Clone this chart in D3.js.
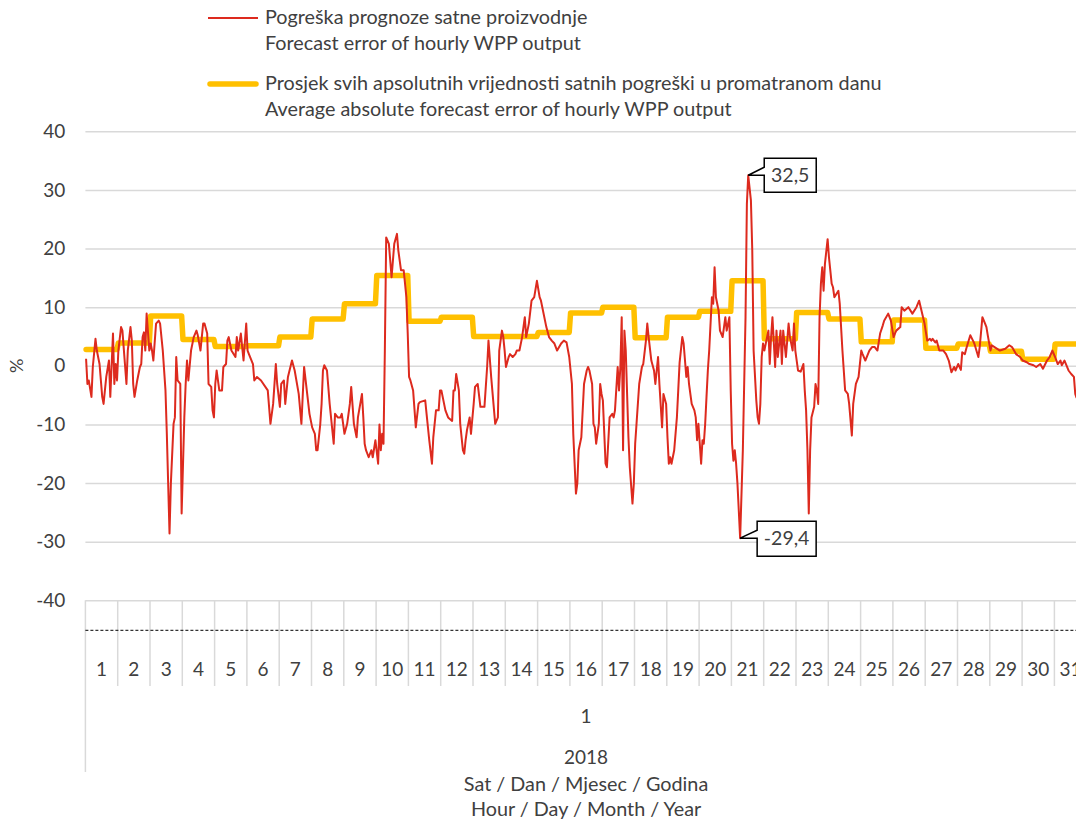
<!DOCTYPE html>
<html>
<head>
<meta charset="utf-8">
<script src="https://cdn.jsdelivr.net/npm/d3@7"></script>
<style>
  body { margin: 0; background: #fff; }
  svg text { font-family: Lato, "Open Sans", sans-serif; fill: #404040; }
</style>
</head>
<body>
<svg id="chart" width="1076" height="821"></svg>
<script>
////////////////// data ////////////////////
// day labels on the category axis (month 1, year 2018)
const dayLabels = d3.range(1, 32).map(String);
const monthLabel = "1";
const yearLabel = "2018";
const yTicks = [-40, -30, -20, -10, 0, 10, 20, 30, 40];

// daily average of absolute hourly errors (%), one per day
const dailyAvgAbs = [2.8, 3.9, 8.5, 4.5, 3.3, 3.4, 4.9, 8.0, 10.6, 15.4, 7.6, 8.3, 5.0, 5.0, 5.7,
    9.0, 10.0, 4.8, 8.3, 9.3, 14.5, 4.6, 9.1, 8.0, 4.1, 7.8, 3.0, 3.7, 2.5, 1.1, 3.7];

// hourly forecast error (%): [hour index from 1.1. 00h, value]
const hourlyError = [
    [0,1.2],[1,-3.1],[2,-2.5],[4,-5.3],[5,-0.2],[7,4.6],[8,2.6],[10,0.3],[12,-5.3],[13,-6.5],[15,-1.9],[17,0.9],
    [18,-5.3],[20,5.5],[21,-3.1],[22,0.3],[23,-2.5],[24,2.6],[26,6.6],[27,6.0],[30,-3.1],[31,2.6],[33,6.6],[34,4.3],
    [35,-3.1],[36,-5.3],[38,-2.5],[40,-0.2],[41,0.3],[42,4.9],[43,5.7],[44,2.6],[45,8.9],[47,2.6],[48,3.8],[49,2.6],
    [50,0.9],[52,7.2],[54,7.7],[55,7.2],[57,2.6],[59,-4.2],[60,-11.6],[62,-28.6],[63,-20.1],[65,-9.9],[66,-8.8],
    [67,1.5],[68,-2.5],[70,-3.1],[71,-25.2],[73,-8.8],[74,-3.1],[75,0.9],[76,-2.5],[78,2.6],[80,4.9],[82,6.0],
    [83,5.2],[85,2.6],[87,7.2],[88,7.2],[90,5.5],[91,-3.1],[93,-3.6],[94,-7.6],[95,-8.8],[96,-3.1],[97,-0.8],
    [99,-4.2],[101,-4.2],[102,-0.2],[104,0.3],[105,4.3],[106,4.9],[108,2.6],[111,1.5],[112,4.9],[113,2.6],[115,5.5],
    [117,0.9],[119,7.2],[120,2.6],[121,2.0],[124,0.3],[125,-2.5],[127,-1.9],[130,-2.5],[135,-4.2],[137,-9.9],
    [139,-6.5],[141,0.3],[142,-3.1],[144,-7.0],[145,-3.1],[147,-2.5],[148,-6.5],[150,-1.9],[153,0.9],[155,-0.8],
    [158,-4.8],[160,-9.9],[162,-0.2],[164,-4.2],[166,-8.2],[168,-10.5],[170,-11.6],[171,-14.4],[172,-14.4],
    [174,-10],[175,-6.5],[176,-0.8],[177,0.1],[179,-0.8],[181,-6.5],[184,-13.3],[185,-8.2],[187,-8.8],[189,-8.8],
    [190,-8.2],[192,-11.6],[194,-9.9],[196,-6.5],[197,-3.6],[199,-9.9],[201,-12.2],[202,-8.8],[205,-4.8],
    [206,-8.8],[207,-13.3],[208,-14.4],[210,-15.6],[212,-14.4],[213,-15.6],[215,-12.7],[217,-16.7],[218,-10],
    [219,-14.4],[220,-11.6],[221,-13.3],[222,2.6],[223,21.9],[225,20.8],[227,15.1],[229,20.8],[231,22.5],
    [232,19.7],[234,16.3],[236,16.3],[238,11.7],[239,5.5],[240,-1.9],[241,-2.5],[243,-4.2],[245,-10.5],[247,-6.5],
    [248,-6.2],[252,-5.9],[253,-8.2],[255,-12.7],[257,-16.7],[258,-12.2],[260,-7.6],[262,-7.6],[263,-4.2],
    [264,-4.2],[267,-7.6],[269,-8.8],[272,-9.4],[273,-4.2],[274,-4.2],[275,-1.4],[277,-4.2],[278,-9.9],[280,-14.4],
    [281,-15],[282,-12.7],[283,-11],[285,-8.8],[286,-11.6],[288,-6.5],[289,-3.6],[291,-3.1],[293,-7.0],[296,-7.0],
    [298,-0.2],[299,4.3],[301,-1.9],[304,-9.9],[306,-8.8],[307,2.6],[309,6.0],[310,4.9],[311,2.6],[312,-0.2],
    [314,1.5],[315,2.0],[317,1.5],[319,2.0],[320,2.6],[322,2.6],[324,4.9],[326,8.3],[327,4.9],[329,7.2],[331,11.1],
    [333,11.7],[335,14.5],[337,11.7],[338,11.1],[342,6.6],[344,4.9],[346,4.3],[348,3.8],[350,2.6],[353,3.8],
    [355,4.3],[357,4.0],[359,1.5],[361,-3.1],[362,-11.6],[364,-21.8],[365,-20.1],[366,-14.4],[368,-12.2],
    [370,-3.1],[372,-0.8],[373,-0.2],[374,-0.8],[376,-3.1],[377,-9.9],[378,-10.5],[379,-13.3],[381,-9.9],
    [382,-3.1],[383,-4.8],[384,-5.9],[386,-16.7],[387,-17.3],[389,-8.8],[391,-8.2],[392,-8.8],[393,-7.6],
    [395,-0.2],[396,-4.2],[397,-0.2],[398,8.3],[399,-14.4],[400,6.0],[401,2.6],[403,-12.2],[404,-17.3],
    [406,-23.5],[407,-20.1],[408,-13.3],[409,-9.9],[411,-3.1],[413,-0.2],[414,0.3],[416,4.3],[417,7.2],[418,4.9],
    [420,0.9],[422,-0.8],[423,-3.1],[424,-0.8],[425,1.5],[426,-3.1],[428,-10.5],[429,-4.8],[431,-6.5],[432,-12.2],
    [433,-16.7],[434,-15.6],[435,-16.7],[437,-14.4],[439,-8.8],[440,-4.2],[441,0.5],[443,4.9],[444,3.8],[446,-1.9],
    [447,-0.2],[448,-3.1],[450,-6.5],[452,-7.6],[453,-8.8],[454,-12.7],[455,-9.9],[456,-13.3],[457,-16.7],
    [458,-12.7],[459,-13.3],[460,-10],[461,-5.3],[462,-0.8],[463,2.6],[465,11.7],[466,10.6],[467,16.8],[468,11.7],
    [470,9.4],[471,6.0],[473,4.9],[475,8.3],[476,6.0],[478,8.3],[479,-4.2],[480,-13.3],[481,-16.2],[482,-14.4],
    [483,-16.7],[484,-20.1],[486,-29.4],[488,-14.4],[490,8.3],[491,27.6],[492,32.5],[494,28.2],[495,19.7],
    [496,2.6],[498,-5.9],[499,-8.8],[500,-9.9],[501,-6.5],[502,1.5],[503,3.8],[504,2.6],[506,4.9],[507,6.0],
    [508,0.3],[509,4.9],[510,8.3],[512,-0.2],[513,6.0],[514,1.5],[516,6.0],[517,0.3],[518,6.0],[520,1.5],
    [522,7.2],[523,4.9],[525,2.6],[526,7.2],[527,2.6],[529,-0.8],[531,-1.0],[533,0.3],[534,-4.2],[535,-7.6],
    [536,-14.4],[537,-25.2],[538,-14.4],[539,-8.8],[541,-7.0],[542,-3.1],[543,-4.2],[544,-6.5],[545,8.3],
    [546,14],[547,16.8],[548,12.8],[549,17.4],[551,21.6],[552,18.5],[554,14],[555,13.4],[556,11.7],[559,12.8],
    [560,10.6],[562,2.6],[564,-4.2],[566,-4.8],[567,-6.5],[569,-11.9],[570,-6.5],[572,-3.1],[574,-1.9],[576,2.6],
    [577,2.0],[579,0.9],[582,2.6],[584,3.2],[586,3.2],[588,2.6],[590,5.5],[592,6.9],[593,7.7],[596,8.9],[598,7.7],
    [600,4.9],[601,5.5],[602,6.0],[605,6.6],[606,10],[608,9.4],[611,10],[614,8.9],[617,10],[619,11.1],[623,7.2],
    [625,4.3],[627,4.6],[628,4.3],[629,4.6],[631,4.0],[632,4.3],[634,2.6],[637,2.6],[639,2.0],[641,0.9],
    [643,-1.1],[645,-0.2],[646,-0.8],[648,0.3],[650,-0.7],[651,2.3],[653,2.0],[654,2.9],[657,5.2],[659,4.3],
    [660,3.8],[663,1.5],[664,3.2],[666,8.3],[668,7.2],[669,6.6],[670,5.2],[672,2.6],[673,3.5],[675,3.2],[679,2.6],
    [683,2.9],[686,3.5],[688,3.2],[691,2.0],[694,1.5],[696,0.9],[699,0.6],[701,0.3],[704,0.1],[706,-0.2],
    [709,0.3],[711,-0.5],[714,0.9],[716,1.5],[718,2.6],[720,1.5],[722,0.3],[724,0.9],[725,0.1],[727,0.9],
    [730,-0.8],[732,-1.4],[734,-1.9],[735,-4.8],[736,-5.5]
];

const legendRed = ["Pogreška prognoze satne proizvodnje", "Forecast error of hourly WPP output"];
const legendYellow = ["Prosjek svih apsolutnih vrijednosti satnih pogreški u promatranom danu",
    "Average absolute forecast error of hourly WPP output"];
const axisTitle = ["Sat / Dan / Mjesec / Godina", "Hour / Day / Month / Year"];

////////////////// layout ////////////////////
const svg = d3.select("#chart");
const plotLeft = 85.4;
const dayWidth = 32.3;
const hoursPerDay = 24;
const nHours = dailyAvgAbs.length * hoursPerDay;
const redColor = "#dd2a1e";
const yellowColor = "#ffc000";
const gridColor = "#d9d9d9";
// excel style numbers: plain hyphen, decimal comma
const fmtNum = v => String(v).replace(".", ",");

const x = d3.scaleLinear()
    .domain([0, nHours])
    .range([plotLeft, plotLeft + dayWidth * dailyAvgAbs.length]);
const y = d3.scaleLinear()
    .domain([-40, 40])
    .range([600.3, 131.3]);
const xDay = d3.scaleBand()
    .domain(dayLabels)
    .range(x.range());

// gridlines + y labels
const yAxis = svg.append("g")
    .attr("transform", `translate(${plotLeft},0)`)
    .call(d3.axisLeft(y).tickValues(yTicks).tickFormat(fmtNum)
        .tickSize(-(1076 - plotLeft)).tickPadding(20))
yAxis.select(".domain").remove();
yAxis.selectAll(".tick line")
    .attr("stroke", gridColor)
    .attr("stroke-width", 1.5);
yAxis.selectAll(".tick text")
    .style("font-size", "19px")
    .attr("fill", "#404040");

svg.append("text")
    .attr("transform", `translate(23,${y(0)}) rotate(-90)`)
    .attr("text-anchor", "middle")
    .style("font-size", "18px")
    .text("%");

// category axis: day boxes
const catTop = y(-40);
const catGroup = svg.append("g");
catGroup.selectAll("line.sep")
    .data(d3.range(dailyAvgAbs.length + 1))
    .enter()
    .append("line")
    .attr("class", "sep")
    .attr("x1", i => x(i * hoursPerDay))
    .attr("x2", i => x(i * hoursPerDay))
    .attr("y1", catTop)
    .attr("y2", i => i === 0 ? 772 : 686)
    .attr("stroke", gridColor)
    .attr("stroke-width", 1.5);

const xAxis = svg.append("g")
    .attr("transform", `translate(0,${catTop})`)
    .call(d3.axisBottom(xDay).tickSize(0).tickPadding(62));
xAxis.select(".domain").remove();
xAxis.selectAll(".tick text")
    .style("font-size", "19px")
    .attr("fill", "#404040");

// dashed reference line
svg.append("line")
    .attr("x1", plotLeft)
    .attr("x2", 1076)
    .attr("y1", 630.3)
    .attr("y2", 630.3)
    .attr("stroke", "#000")
    .attr("stroke-width", 1)
    .attr("stroke-dasharray", "3,2");

const midX = (x.range()[0] + x.range()[1]) / 2;
svg.append("text").attr("x", midX).attr("y", 723).attr("text-anchor", "middle")
    .style("font-size", "19px").text(monthLabel);
svg.append("text").attr("x", midX).attr("y", 764).attr("text-anchor", "middle")
    .style("font-size", "19px").text(yearLabel);
svg.selectAll("text.axisTitle")
    .data(axisTitle)
    .enter()
    .append("text")
    .attr("class", "axisTitle")
    .attr("x", midX)
    .attr("y", (d, i) => 791 + i * 25)
    .attr("text-anchor", "middle")
    .style("font-size", "19.8px")
    .text(d => d);

////////////////// series ////////////////////
svg.append("clipPath").attr("id", "plotClip")
    .append("rect")
    .attr("x", 0).attr("y", 100).attr("width", 1076).attr("height", 520);

// yellow: daily average repeated for each hour of the day
const hourlyAvg = [];
dailyAvgAbs.forEach((v, d) => {
    for (let h = 0; h < hoursPerDay; h++) hourlyAvg.push([d * hoursPerDay + h, v]);
});
const line = d3.line()
    .x(d => x(d[0] + 0.5))
    .y(d => y(d[1]));

const series = svg.append("g").attr("clip-path", "url(#plotClip)");
series.append("path")
    .attr("d", line(hourlyAvg))
    .attr("fill", "none")
    .attr("stroke", yellowColor)
    .attr("stroke-width", 5.5)
    .attr("stroke-linejoin", "round")
    .attr("stroke-linecap", "round");
series.append("path")
    .attr("d", line(hourlyError))
    .attr("fill", "none")
    .attr("stroke", redColor)
    .attr("stroke-width", 2)
    .attr("stroke-linejoin", "round");

////////////////// callouts ////////////////////
const maxPt = hourlyError.reduce((a, b) => b[1] > a[1] ? b : a);
const minPt = hourlyError.reduce((a, b) => b[1] < a[1] ? b : a);
function callout(pt, dx, dy, w, h) {
    const px = x(pt[0] + 0.5), py = y(pt[1]);
    const bx = px + dx, by = py + dy;
    const g = svg.append("g");
    // box with a wedge pointing at the data point
    const path = d3.path();
    path.moveTo(bx, by);
    path.lineTo(bx + w, by);
    path.lineTo(bx + w, by + h);
    path.lineTo(bx, by + h);
    path.lineTo(bx, by + 17);
    path.lineTo(px, py);
    path.lineTo(bx, by + 9);
    path.closePath();
    g.append("path")
        .attr("d", path.toString())
        .attr("fill", "#fff")
        .attr("stroke", "#000")
        .attr("stroke-width", 1.5);
    g.append("text")
        .attr("x", bx + w / 2)
        .attr("y", by + h / 2 + 6.5)
        .attr("text-anchor", "middle")
        .style("font-size", "19.5px")
        .attr("fill", "#000")
        .text(fmtNum(pt[1]));
}
callout(maxPt, 16, -17, 52, 34);
callout(minPt, 17, -17, 59, 35);

////////////////// legend ////////////////////
const legend = svg.append("g");
legend.append("line")
    .attr("x1", 208).attr("x2", 258).attr("y1", 18).attr("y2", 18)
    .attr("stroke", redColor).attr("stroke-width", 2);
legend.append("line")
    .attr("x1", 210).attr("x2", 256).attr("y1", 84).attr("y2", 84)
    .attr("stroke", yellowColor).attr("stroke-width", 5.5).attr("stroke-linecap", "round");
legend.selectAll("text.red")
    .data(legendRed)
    .enter()
    .append("text")
    .attr("x", 265)
    .attr("y", (d, i) => 24 + i * 26)
    .style("font-size", "19.8px")
    .text(d => d);
legend.selectAll("text.yellow")
    .data(legendYellow)
    .enter()
    .append("text")
    .attr("x", 265)
    .attr("y", (d, i) => 90 + i * 26)
    .style("font-size", "19.8px")
    .text(d => d);
</script>
</body>
</html>
